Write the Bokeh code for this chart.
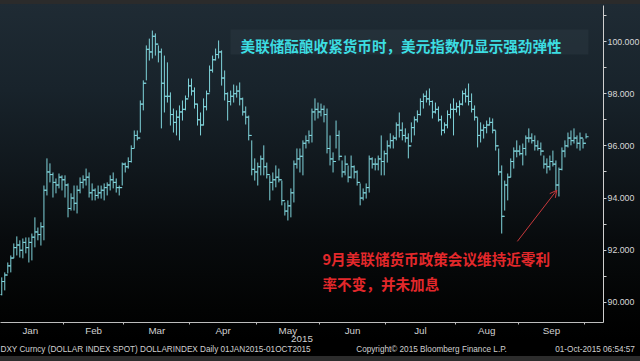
import numpy as np
import pandas as pd
from bokeh.plotting import figure
from bokeh.models import (FixedTicker, Range1d, Label, Arrow, OpenHead, BoxAnnotation, LinearAxis,
                          NumeralTickFormatter, GlobalInlineStyleSheet)
from bokeh.embed import file_html
from bokeh.resources import INLINE

# ---------------- data (DXY daily, 02 Jan 2015 - 01 Oct 2015, weekdays) ----------------
dates = pd.bdate_range("2015-01-02", "2015-10-01")

high = [90.96, 91.15, 91.53, 91.80, 92.26, 92.53, 92.38, 92.45, 92.49, 92.49, 92.64, 93.26, 92.87, 93.07, 94.48, 95.52, 95.33, 94.98, 94.75, 94.94, 94.87,
        94.87, 94.56, 94.18, 94.48, 94.48, 94.79, 94.87, 95.13, 94.98, 94.56, 94.37, 94.48, 94.48, 94.56, 94.60, 94.87, 94.98, 94.75, 94.48, 95.36,
        95.36, 95.56, 96.02, 96.59, 96.59, 97.74, 98.51, 99.85, 100.11, 100.42, 100.31, 99.85, 99.73, 99.46, 99.20, 98.05, 97.43, 97.36, 97.55, 97.74, 97.93, 98.58,
        98.58, 98.24, 97.62, 97.28, 97.82, 98.12, 99.08, 99.46, 99.73, 100.04, 99.66, 98.89, 98.05, 98.12, 98.35, 98.31, 98.43, 97.85, 97.51, 97.16, 96.21, 95.52,
        95.36, 95.63, 96.02, 95.36, 94.87, 94.98, 95.25, 95.13, 94.67, 93.83, 93.91, 94.37, 95.44, 95.90, 95.90, 96.21, 96.40, 96.59, 97.43, 97.82, 97.66,
        97.62, 97.55, 97.43, 96.40, 95.75, 96.97, 96.59, 95.44, 95.63, 95.25, 95.63, 95.25, 95.06, 94.56, 94.37, 94.56, 95.63, 95.56, 95.52, 95.63, 96.40, 95.82,
        96.21, 96.48, 96.40, 96.90, 97.28, 96.90, 96.67, 96.48, 96.90, 97.13, 97.36, 97.82, 98.01, 98.12, 98.20, 97.74, 97.66, 97.51, 97.16, 96.90, 97.36, 97.62, 97.82,
        97.66, 97.74, 98.12, 98.20, 98.39, 98.01, 97.55, 97.09, 96.90, 96.82, 96.97, 97.09, 97.05, 96.59, 95.90, 95.25, 94.67, 94.94, 95.52, 95.94, 96.21,
        96.02, 96.09, 96.40, 96.67, 96.48, 96.40, 96.21, 96.13, 95.63, 95.52, 95.63, 95.82, 95.44, 95.17, 95.94, 96.21, 96.51, 96.59, 96.67, 96.40, 96.51, 96.28,
        96.48]

low = [90.27, 90.46, 91.11, 91.15, 91.69, 91.80, 91.72, 91.69, 91.88, 91.53, 91.61, 92.11, 92.38, 92.18, 92.38, 94.10, 94.60, 94.02, 94.18, 94.37, 94.29,
       94.02, 93.26, 93.52, 93.52, 93.41, 94.18, 94.37, 94.48, 94.02, 93.91, 93.91, 93.98, 93.98, 93.91, 94.10, 94.29, 94.37, 94.21, 94.10, 94.48,
       94.98, 95.13, 95.36, 95.90, 96.21, 96.51, 97.36, 98.51, 99.27, 99.35, 99.46, 99.20, 96.67, 97.28, 97.66, 96.78, 96.51, 96.40, 96.21, 96.97, 97.36, 97.85,
       97.93, 97.43, 96.78, 96.40, 96.78, 97.36, 98.05, 98.81, 99.27, 99.35, 98.31, 97.74, 96.97, 97.55, 97.66, 97.85, 97.55, 97.16, 96.82, 96.21, 94.87, 94.67,
       94.48, 94.87, 94.87, 94.75, 93.91, 94.29, 94.41, 94.60, 93.72, 93.33, 93.14, 93.26, 93.83, 95.13, 94.98, 94.87, 95.90, 96.09, 96.13, 96.97, 97.05,
       97.13, 96.90, 95.71, 95.25, 94.98, 95.90, 95.44, 94.79, 94.87, 94.60, 94.75, 94.75, 94.48, 93.72, 93.91, 93.98, 94.21, 95.13, 95.06, 95.06, 94.87, 94.87,
       95.36, 95.90, 95.90, 96.21, 96.32, 96.21, 96.13, 95.52, 96.13, 96.40, 96.90, 97.16, 97.43, 97.66, 97.55, 97.05, 97.24, 96.93, 96.40, 96.48, 96.67, 97.05, 96.40,
       97.28, 97.16, 97.55, 97.66, 97.55, 97.28, 96.97, 95.94, 96.13, 96.28, 96.48, 96.78, 96.48, 95.82, 94.87, 92.64, 93.52, 93.91, 94.79, 95.13, 95.56,
       95.63, 95.25, 95.63, 96.13, 96.09, 95.82, 95.82, 95.63, 95.13, 94.94, 95.06, 95.21, 94.29, 94.06, 95.06, 95.56, 95.94, 96.02, 96.09, 95.90, 95.82, 95.90,
       96.28]

close = [90.80, 91.05, 91.40, 91.70, 92.10, 92.20, 92.00, 92.30, 92.10, 92.30, 92.50, 92.70, 92.60, 92.90, 94.30, 95.00, 94.90, 94.60, 94.50, 94.80, 94.70,
         94.50, 93.60, 94.00, 93.80, 94.30, 94.60, 94.70, 94.80, 94.20, 94.30, 94.10, 94.20, 94.30, 94.40, 94.50, 94.70, 94.60, 94.40, 94.40, 95.30,
         95.20, 95.40, 95.90, 96.40, 96.30, 97.60, 98.40, 99.70, 99.60, 100.20, 99.90, 99.60, 98.40, 97.90, 97.90, 97.20, 96.90, 97.10, 97.30, 97.40, 97.80, 98.30,
         98.10, 97.60, 97.00, 96.80, 97.50, 98.00, 98.90, 99.30, 99.50, 99.60, 98.60, 98.00, 97.70, 97.90, 98.00, 98.10, 97.80, 97.30, 97.10, 96.40, 95.10, 95.00,
         95.20, 95.50, 95.20, 94.90, 94.60, 94.70, 94.80, 94.70, 93.90, 93.50, 93.70, 94.20, 95.30, 95.50, 95.60, 96.10, 96.20, 96.40, 97.30, 97.40, 97.30,
         97.40, 97.20, 95.90, 95.50, 95.40, 96.40, 95.60, 95.00, 95.30, 94.80, 95.20, 95.00, 94.60, 94.00, 94.20, 94.40, 95.50, 95.30, 95.30, 95.50, 95.40, 95.70,
         96.00, 96.20, 96.30, 96.80, 96.60, 96.40, 96.30, 96.00, 96.70, 97.00, 97.20, 97.70, 97.90, 97.80, 97.70, 97.30, 97.40, 97.00, 96.60, 96.80, 97.20, 97.40, 97.40,
         97.50, 97.60, 98.00, 97.90, 97.70, 97.40, 97.10, 96.40, 96.60, 96.70, 96.80, 96.90, 96.60, 96.00, 95.00, 93.30, 94.50, 94.80, 95.40, 95.80, 95.80,
         95.70, 95.90, 96.30, 96.30, 96.20, 96.00, 95.90, 95.80, 95.30, 95.20, 95.40, 95.30, 94.50, 95.10, 95.80, 96.00, 96.30, 96.20, 96.30, 96.10, 96.30, 96.10,
         96.35]

first_open = 90.30
open_ = [first_open] + close[:-1]          # FX bars open at the prior close

month_names = ["Jan", "Feb", "Mar", "Apr", "May", "Jun", "Jul", "Aug", "Sep"]
y_ticks = [90, 92, 94, 96, 98, 100]
y_minor = [89, 91, 93, 95, 97, 99, 101]

title_text = "美联储酝酿收紧货币时，美元指数仍显示强劲弹性"
note_line1 = "9月美联储货币政策会议维持近零利"
note_line2 = "率不变，并未加息"
footer_texts = ["DXY Curncy (DOLLAR INDEX SPOT) DOLLARINDEX  Daily 01JAN2015-01OCT2015",
                "Copyright\u00a9 2015 Bloomberg Finance L.P.",
                "01-Oct-2015 06:54:57"]
footer_pos = [52.2, 143.7, 198.0]      # weekday-index centres of the footer strings

# ---------------- positions on a weekday axis ----------------
x = np.arange(1, len(dates) + 1)          # index 0 would be 01 Jan
months = dates.month.values
centers, boundaries = [], []
for m in range(1, 10):
    idx = x[months == m]
    lo = 0 if m == 1 else idx.min()
    centers.append((lo + idx.max()) / 2.0)
for m in range(2, 11):
    boundaries.append(float(x[months == m].min()) - 0.5)

BAR = "#7fd3da"
AX = "#cfcfcf"
FONT = "Liberation Sans"

p = figure(frame_width=603, frame_height=317, output_backend="svg", toolbar_location=None,
           x_range=Range1d(0.58, 200.8), y_range=Range1d(89.23, 101.38),
           y_axis_location="right",
           min_border_left=0, min_border_top=5, min_border_right=0, min_border_bottom=0,
           background_fill_color=None, border_fill_color=None, outline_line_color=None)
p.styles = {"background": ("linear-gradient(to bottom, #2b2b2b 0px, #2b2b2b 4px, #1f2b34 4px, "
                           "#18232b 90px, #10171c 170px, #080b0d 240px, #020303 310px, "
                           "#000000 340px, #000000 357px, #2c2c2c 357px)")}
p.stylesheets = [GlobalInlineStyleSheet(css="html, body { background: #2c2c2c; overflow: hidden; }")]
p.grid.visible = False

# y axis (right)
ya = p.yaxis[0]
ya.ticker = FixedTicker(ticks=y_ticks, minor_ticks=y_minor)
ya.formatter = NumeralTickFormatter(format="0.000")
ya.axis_line_color = AX
ya.major_tick_line_color = AX
ya.minor_tick_line_color = AX
ya.major_tick_in = 0
ya.major_tick_out = 3
ya.minor_tick_in = 0
ya.minor_tick_out = 3
ya.major_label_standoff = 1
ya.major_label_text_color = "#d8d8d8"
ya.major_label_text_font = FONT
ya.major_label_text_font_size = "8.8px"

# x axis (months)
xa = p.xaxis[0]
xa.ticker = FixedTicker(ticks=centers, minor_ticks=boundaries)
xa.major_label_overrides = {c: n for c, n in zip(centers, month_names)}
xa.axis_line_color = "#bdbdbd"
xa.major_tick_line_color = None
xa.major_tick_in = 0
xa.major_tick_out = 0
xa.minor_tick_line_color = "#bdbdbd"
xa.minor_tick_in = 0
xa.minor_tick_out = 2
xa.major_label_standoff = 0
xa.major_label_text_color = "#d0d0d0"
xa.major_label_text_font = FONT
xa.major_label_text_font_size = "9.8px"
xa.axis_label = "2015"
xa.axis_label_standoff = -3
xa.axis_label_text_color = "#d0d0d0"
xa.axis_label_text_font = FONT
xa.axis_label_text_font_size = "9.8px"
xa.axis_label_text_font_style = "normal"

# footer line as an axis of labels below
fa = LinearAxis(ticker=FixedTicker(ticks=footer_pos),
                major_label_overrides={c: t for c, t in zip(footer_pos, footer_texts)},
                axis_line_color=None, major_tick_line_color=None, minor_tick_line_color=None,
                major_tick_in=0, major_tick_out=0, minor_tick_in=0, minor_tick_out=0,
                major_label_standoff=0, major_label_text_color="#d0d0d0",
                major_label_text_font=FONT, major_label_text_font_size="8.2px")
p.add_layout(fa, "below")

# title box
p.add_layout(BoxAnnotation(left=76.95, right=195.8, bottom=99.50, top=100.46,
                           fill_color="#2a3740", fill_alpha=0.55, line_color=None))

# OHLC bars
p.segment(x0=x, y0=low, x1=x, y1=high, line_color=BAR, line_width=1)
p.segment(x0=x - 0.85, y0=open_, x1=x, y1=open_, line_color=BAR, line_width=1)
p.segment(x0=x, y0=close, x1=x + 0.85, y1=close, line_color=BAR, line_width=1)

# annotations
p.add_layout(Label(x=80.3, y=99.85, text=title_text, text_font="Noto Sans CJK SC",
                   text_font_size="14.6px", text_font_style="bold", text_color="#3cdde2",
                   text_baseline="middle"))
p.add_layout(Label(x=107.5, y=91.69, text=note_line1, text_font="Noto Sans CJK SC",
                   text_font_size="14.6px", text_font_style="bold", text_color="#e3282b",
                   text_baseline="middle"))
p.add_layout(Label(x=107.5, y=90.73, text=note_line2, text_font="Noto Sans CJK SC",
                   text_font_size="14.6px", text_font_style="bold", text_color="#e3282b",
                   text_baseline="middle"))
p.add_layout(Arrow(x_start=172.2, y_start=92.34, x_end=185.3, y_end=94.3,
                   line_color="#c8393c", line_width=1,
                   end=OpenHead(size=7, line_color="#c8393c", line_width=1)))

open("out.html", "w").write(file_html(p, INLINE))
